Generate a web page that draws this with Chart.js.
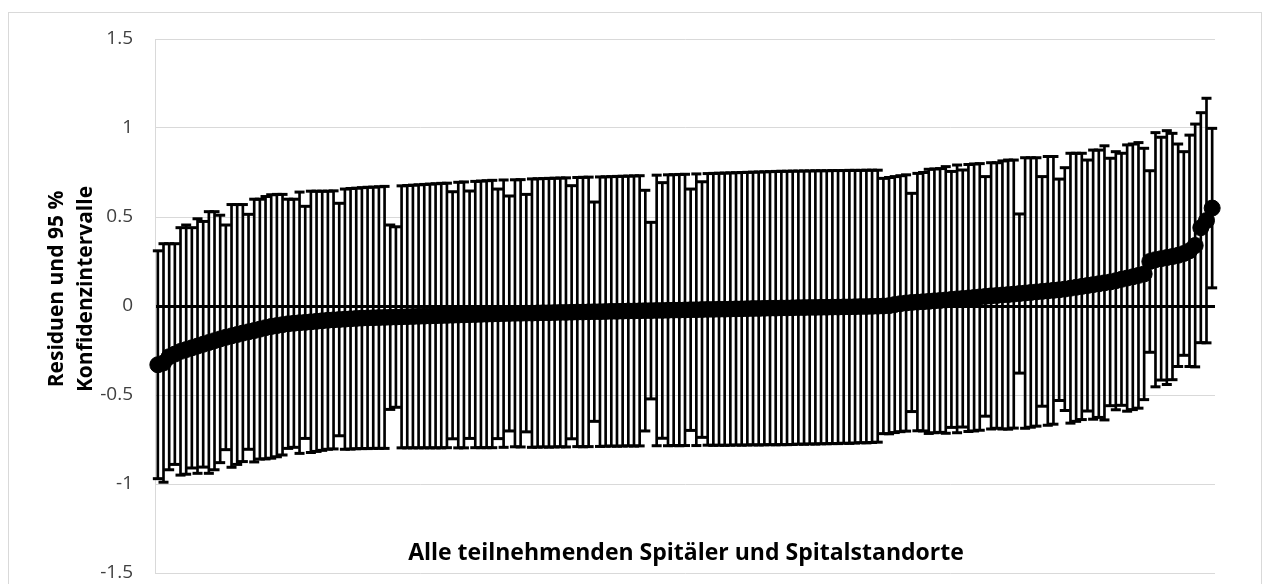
<!DOCTYPE html>
<html>
<head>
<meta charset="utf-8">
<title>Residuen</title>
<script src="https://cdn.jsdelivr.net/npm/chart.js"></script>
<style>
    body { margin: 0; background: #fff; }
</style>
</head>
<body>
<canvas id="myChart" width="1265" height="584"></canvas>
<script>
// residui ordinati (un valore per spitale)
var residuen = [
    -0.33, -0.32, -0.285, -0.27, -0.255, -0.245, -0.235, -0.225, -0.215, -0.205,
    -0.195, -0.185, -0.176, -0.168, -0.16, -0.152, -0.145, -0.138, -0.13, -0.122,
    -0.115, -0.11, -0.105, -0.1, -0.097, -0.094, -0.092, -0.089, -0.086, -0.083,
    -0.08, -0.078, -0.076, -0.074, -0.072, -0.07, -0.068, -0.067, -0.066, -0.065,
    -0.064, -0.063, -0.062, -0.061, -0.06, -0.059, -0.058, -0.057, -0.056, -0.055,
    -0.054, -0.053, -0.052, -0.051, -0.05, -0.049, -0.048, -0.047, -0.046, -0.045,
    -0.044, -0.043, -0.042, -0.041, -0.041, -0.04, -0.04, -0.039, -0.038, -0.038,
    -0.037, -0.036, -0.036, -0.035, -0.034, -0.034, -0.033, -0.032, -0.032, -0.031,
    -0.03, -0.03, -0.029, -0.028, -0.028, -0.027, -0.026, -0.026, -0.025, -0.025,
    -0.024, -0.023, -0.023, -0.022, -0.021, -0.021, -0.02, -0.019, -0.019, -0.018,
    -0.018, -0.017, -0.016, -0.016, -0.015, -0.014, -0.014, -0.013, -0.012, -0.012,
    -0.011, -0.011, -0.01, -0.009, -0.009, -0.008, -0.008, -0.007, -0.007, -0.006,
    -0.006, -0.005, -0.005, -0.004, -0.003, -0.003, -0.002, -0.001, 0, 0.002,
    0.008, 0.013, 0.017, 0.02, 0.022, 0.024, 0.026, 0.029, 0.031, 0.034,
    0.037, 0.04, 0.042, 0.045, 0.048, 0.051, 0.054, 0.057, 0.059, 0.062,
    0.064, 0.067, 0.07, 0.073, 0.076, 0.079, 0.082, 0.085, 0.088, 0.091,
    0.095, 0.1, 0.105, 0.11, 0.115, 0.12, 0.125, 0.13, 0.135, 0.142,
    0.15, 0.157, 0.164, 0.172, 0.18, 0.25, 0.26, 0.266, 0.272, 0.278,
    0.285, 0.295, 0.31, 0.34, 0.44, 0.48, 0.55
];

// limite superiore dell'intervallo di confidenza 95 %
var obereGrenze = [
    0.31, 0.35, 0.35, 0.35, 0.44, 0.455, 0.44, 0.49, 0.475, 0.53,
    0.53, 0.51, 0.455, 0.57, 0.57, 0.57, 0.515, 0.6, 0.6, 0.615,
    0.625, 0.627, 0.627, 0.6, 0.6, 0.64, 0.56, 0.645, 0.645, 0.645,
    0.645, 0.647, 0.577, 0.657, 0.66, 0.662, 0.665, 0.667, 0.668, 0.67,
    0.672, 0.455, 0.445, 0.675, 0.677, 0.679, 0.681, 0.683, 0.685, 0.687,
    0.689, 0.69, 0.642, 0.695, 0.697, 0.646, 0.7, 0.702, 0.704, 0.706,
    0.657, 0.708, 0.618, 0.709, 0.71, 0.627, 0.714, 0.715, 0.716, 0.717,
    0.718, 0.719, 0.72, 0.676, 0.722, 0.723, 0.724, 0.584, 0.725, 0.726,
    0.727, 0.728, 0.729, 0.73, 0.731, 0.732, 0.65, 0.47, 0.735, 0.693,
    0.737, 0.738, 0.739, 0.74, 0.657, 0.742, 0.698, 0.744, 0.745, 0.746,
    0.747, 0.748, 0.749, 0.75, 0.751, 0.752, 0.753, 0.754, 0.755, 0.756,
    0.757, 0.757, 0.758, 0.758, 0.759, 0.759, 0.76, 0.76, 0.76, 0.761,
    0.761, 0.761, 0.762, 0.762, 0.762, 0.763, 0.763, 0.763, 0.717, 0.722,
    0.727, 0.732, 0.737, 0.633, 0.745, 0.75, 0.768, 0.77, 0.772, 0.783,
    0.756, 0.792, 0.764, 0.795, 0.798, 0.8, 0.727, 0.805, 0.805, 0.815,
    0.82, 0.82, 0.517, 0.833, 0.833, 0.833, 0.727, 0.84, 0.84, 0.713,
    0.777, 0.858, 0.858, 0.858, 0.82, 0.876, 0.876, 0.9, 0.83, 0.867,
    0.858, 0.905, 0.91, 0.918, 0.886, 0.76, 0.974, 0.948, 0.985, 0.97,
    0.91, 0.867, 0.96, 1.022, 1.086, 1.167, 0.998
];

var yTicks = [-1.5, -1, -0.5, 0, 0.5, 1, 1.5];
var titoloX = 'Alle teilnehmenden Spitäler und Spitalstandorte';
var titoloY = ['Residuen und 95 %', 'Konfidenzintervalle'];

// categorie: un posto per ogni spitale
var spitaeler = residuen.map(function (v, i) { return 'Spital ' + (i + 1); });

// intervallo simmetrico attorno al residuo
var untereGrenze = residuen.map(function (r, i) { return +(2 * r - obereGrenze[i]).toFixed(3); });
var intervalle = residuen.map(function (r, i) { return [untereGrenze[i], obereGrenze[i]]; });

var cornice = {
    id: 'cornice',
    beforeDraw: function (chart) {
        var ctx = chart.ctx;
        ctx.save();
        ctx.fillStyle = '#fff';
        ctx.fillRect(0, 0, chart.width, chart.height);
        ctx.strokeStyle = '#d9d9d9';
        ctx.lineWidth = 1;
        ctx.strokeRect(8.5, 12.5, 1253, 620);
        ctx.restore();
    },
    afterDraw: function (chart) {
        var ctx = chart.ctx;
        var area = chart.chartArea;
        ctx.save();
        ctx.fillStyle = '#000';
        ctx.textAlign = 'center';
        ctx.textBaseline = 'middle';
        ctx.font = 'bold 23px "Open Sans"';
        ctx.fillText(titoloX, (area.left + area.right) / 2 + 1, area.bottom - 20);
        ctx.font = 'bold 21px "Open Sans"';
        ctx.translate(57, (area.top + area.bottom) / 2 - 17);
        ctx.rotate(-Math.PI / 2);
        ctx.fillText(titoloY[0], 0, 0);
        ctx.fillText(titoloY[1], 0, 29);
        ctx.restore();
    }
};

Chart.defaults.font.family = '"Open Sans", sans-serif';

var ctx = document.getElementById('myChart');
var chart = new Chart(ctx, {
    type: 'bar',
    data: {
        labels: spitaeler,
        datasets: [
            {
                type: 'line',
                label: 'Residuen',
                data: residuen,
                showLine: false,
                pointRadius: 8,
                pointBackgroundColor: '#000',
                pointBorderColor: '#000',
                pointBorderWidth: 1,
                order: 1
            },
            {
                type: 'line',
                label: 'obere Grenze',
                data: obereGrenze,
                showLine: false,
                pointStyle: 'line',
                pointRadius: 5,
                pointBorderWidth: 3,
                pointBorderColor: '#000',
                order: 2
            },
            {
                type: 'line',
                label: 'untere Grenze',
                data: untereGrenze,
                showLine: false,
                pointStyle: 'line',
                pointRadius: 5,
                pointBorderWidth: 3,
                pointBorderColor: '#000',
                order: 2
            },
            {
                label: 'Konfidenzintervall',
                data: intervalle,
                backgroundColor: '#000',
                borderWidth: 0,
                barThickness: 2,
                order: 3
            }
        ]
    },
    options: {
        responsive: false,
        animation: false,
        layout: { padding: { top: 39, right: 50, bottom: 11, left: 0 } },
        plugins: {
            legend: { display: false },
            tooltip: { enabled: false }
        },
        scales: {
            x: {
                display: false,
                offset: true
            },
            y: {
                min: -1.5,
                max: 1.5,
                afterFit: function (scale) {
                    scale.width = 155;
                    scale.paddingTop = 0;
                    scale.paddingBottom = 0;
                },
                afterBuildTicks: function (scale) {
                    scale.ticks = yTicks.map(function (v) { return { value: v }; });
                },
                ticks: {
                    padding: 22,
                    color: '#404040',
                    font: { size: 19 },
                    callback: function (v) { return String(v); }
                },
                border: { display: true, color: '#d9d9d9', width: 1 },
                grid: {
                    drawTicks: false,
                    color: function (c) { return c.tick && c.tick.value === 0 ? '#000' : '#d9d9d9'; },
                    lineWidth: function (c) { return c.tick && c.tick.value === 0 ? 3 : 1; }
                }
            }
        }
    },
    plugins: [cornice]
});
</script>
</body>
</html>
